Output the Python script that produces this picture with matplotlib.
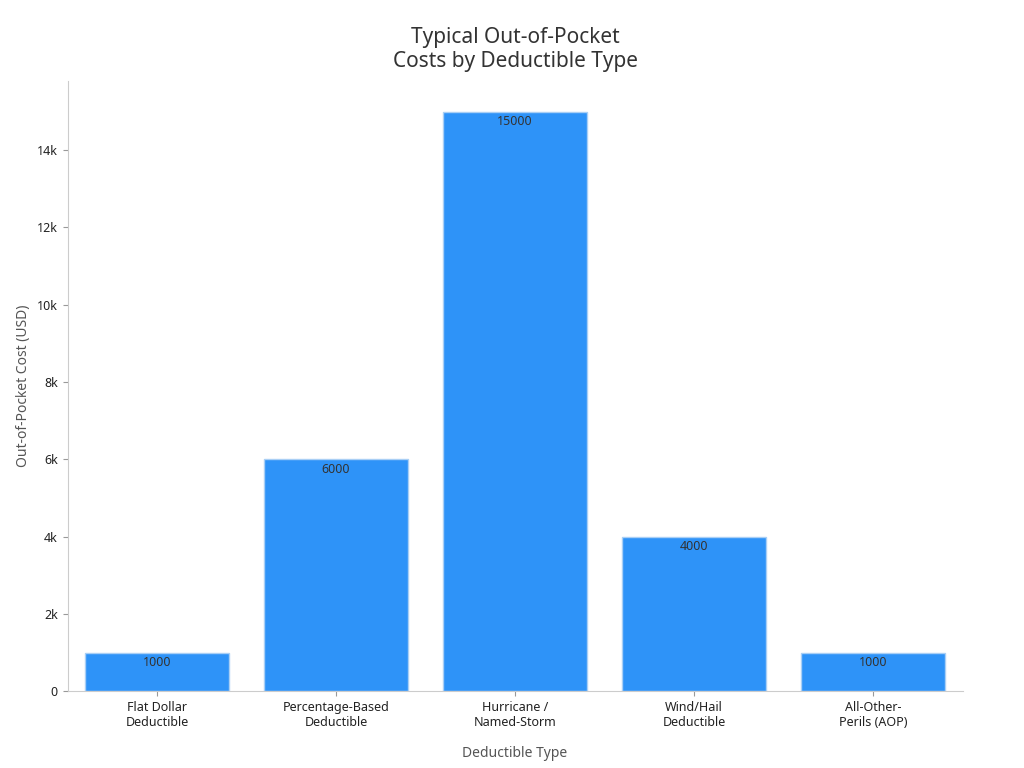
import matplotlib
matplotlib.use("Agg")
import matplotlib.pyplot as plt
from matplotlib.ticker import FuncFormatter

categories = ["Flat Dollar\nDeductible", "Percentage-Based\nDeductible", "Hurricane /\nNamed-Storm", "Wind/Hail\nDeductible", "All-Other-\nPerils (AOP)"]
values = [1000, 6000, 15000, 4000, 1000]

plt.rcParams['font.family'] = ['Noto Sans', 'DejaVu Sans']
fig, ax = plt.subplots(figsize=(10.24, 7.68), dpi=100)
fig.subplots_adjust(left=0.066, right=0.94, top=0.895, bottom=0.1)
bars = ax.bar(range(len(values)), values, width=0.8, color="#2e93f8", edgecolor="#a9cff5", linewidth=1)
for i, v in enumerate(values):
    ax.text(i, v - 100, str(v), ha="center", va="top", fontsize=9, color="#333333")
ax.set_xticks(range(len(values)))
ax.set_xticklabels(categories, fontsize=9, color="#222222")
ax.yaxis.set_major_formatter(FuncFormatter(lambda x, p: "0" if x == 0 else f"{int(x/1000)}k"))
ax.tick_params(axis='y', labelsize=9, colors="#222222")
ax.tick_params(axis='both', color="#999999")
ax.set_ylim(0, 15800)
ax.set_xlim(-0.5, 4.5)
ax.set_xlabel("Deductible Type", fontsize=10, color="#555555", labelpad=12)
ax.set_ylabel("Out-of-Pocket Cost (USD)", fontsize=10, color="#555555")
ax.set_title("Typical Out-of-Pocket\nCosts by Deductible Type", fontsize=15, color="#333333", pad=10)
for s in ["top", "right"]:
    ax.spines[s].set_visible(False)
for s in ["left", "bottom"]:
    ax.spines[s].set_color("#cccccc")
fig.savefig("out.png")
